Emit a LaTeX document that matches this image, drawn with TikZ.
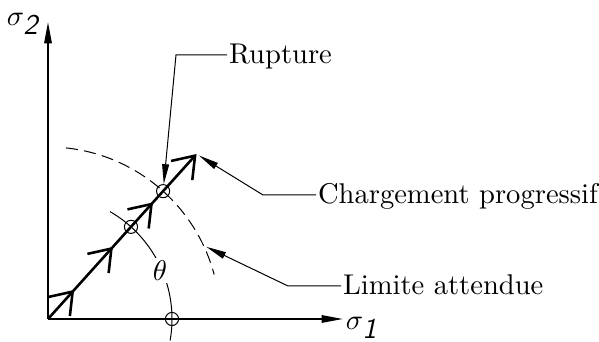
\documentclass[tikz,border=0pt]{standalone}
\usetikzlibrary{arrows.meta,positioning,calc,decorations.markings}
\tikzset{
  axis/.style={line width=0.6pt, -{Triangle[length=7.5pt,width=2.6pt]}},
  ldr/.style={line width=0.35pt, -{Triangle[length=7pt,width=2.4pt]}},
  barb/.style={line width=0.9pt, -{Straight Barb[length=7pt,width=10pt]},
    postaction={decorate},
    decoration={markings,
      mark=at position 0.176 with {\arrow{Straight Barb[length=7pt,width=10pt]}},
      mark=at position 0.437 with {\arrow{Straight Barb[length=7pt,width=10pt]}},
      mark=at position 0.707 with {\arrow{Straight Barb[length=7pt,width=10pt]}}}},
  arcT/.style={line width=0.35pt},
  arcD/.style={line width=0.35pt, dash pattern=on 4.2pt off 2.2pt},
  pt/.style={circle, draw, line width=0.35pt, inner sep=0pt, minimum size=4.6pt},
  lbl/.style={anchor=west, inner sep=0.5pt, text height=6pt, text depth=0pt},
}
\begin{document}
\begin{tikzpicture}[x=0.35pt,y=0.35pt]
  \useasboundingbox (-48,-23) rectangle (551,319);
  \coordinate (O) at (0,0);
  \coordinate (xe) at (295,0);
  \coordinate (ye) at (0,297);
  \coordinate (F) at (48:222);
  \coordinate (lim) at (24.5:174);
  \draw[arcT] (-10:124) arc[start angle=-10, end angle=60, radius=124];
  \draw[arcD] (84:172) arc[start angle=84, end angle=15, radius=172];
  \node[fill=white, inner sep=1pt] (th) at (23.5:122) {$\theta$};
  \draw[axis] (O) -- (xe);
  \draw[axis] (O) -- (ye);
  \node (s1) at (314,-9) {$\sigma_{\textsf{\textit{1}}}$};
  \node (s2) at (-24,295) {$\sigma_{\textsf{\textit{2}}}$};
  \draw[barb] (O) -- (F);
  \node[pt] (c1) at (48:124) {};
  \node[pt] (c2) at (48:172) {};
  \node[pt] (c0) at (0:124) {};
  \node[lbl] (rup) at (179,264) {Rupture};
  \node[lbl] (chg) at (268,124) {Chargement progressif};
  \node[lbl] (lmt) at (293,33) {Limite attendue};
  \coordinate (kR) at (128,264);
  \coordinate (kC) at (215,124);
  \coordinate (kL) at (240,33);
  \draw[ldr] (rup.west) -- (kR) -- (c2);
  \draw[ldr, shorten >=1pt] (chg.west) -- (kC) -- (F);
  \draw[ldr] (lmt.west) -- (kL) -- (lim);
\end{tikzpicture}
\end{document}
